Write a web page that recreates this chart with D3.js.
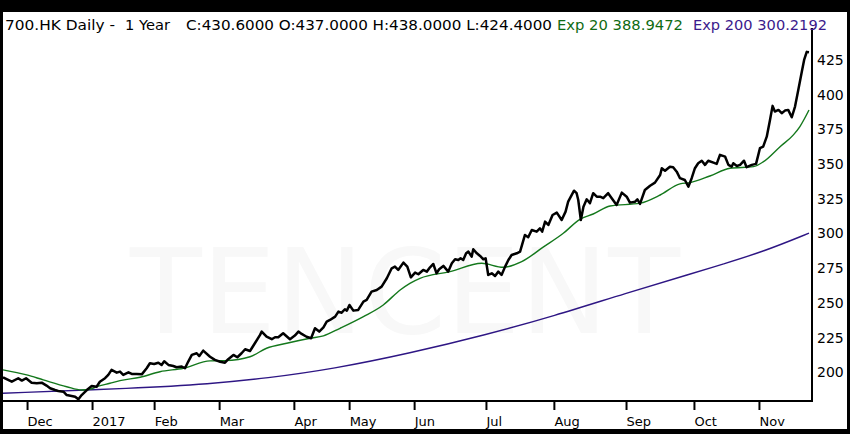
<!DOCTYPE html>
<html>
<head>
<meta charset="utf-8">
<script src="https://cdn.jsdelivr.net/npm/d3@7"></script>
<style>
  html, body { margin: 0; padding: 0; background: #fff; }
  svg { display: block; font-family: "DejaVu Sans", Verdana, sans-serif; }
</style>
</head>
<body>
<div id="chart"></div>
<script>
// 700.HK daily, last ~248 trading sessions (day 0 = late Nov 2016)
const priceDays = [
  0, 2.7, 4.7, 5.8, 7.1, 8.8, 10.4, 11.9, 13.4, 14.5, 16.0, 17.0, 18.6, 19.6, 21.1, 22.2, 23.2, 24.2, 25.8, 27.3,
  28.8, 29.8, 31.4, 32.4, 33.4, 35.0, 36.0, 37.0, 38.6, 39.6, 41.1, 42.7, 44.2, 45.2, 46.5, 47.8, 48.8, 49.6, 50.9, 52.4,
  53.4, 55.0, 56.0, 57.0, 58.1, 59.6, 60.4, 61.6,
  63.7, 65.2, 66.8, 68.3, 69.3, 70.9, 72.1, 73.4, 74.5, 76.0, 77.5, 79.1, 79.6, 81.1, 82.7, 83.7, 84.7, 86.2, 88.3, 89.8,
  90.9, 91.9, 93.4, 94.8, 96.0, 97.3, 98.6, 99.6, 100.6, 102.2, 103.2, 104.2, 105.2, 105.8, 106.6, 107.8, 109.3, 110.9, 111.9, 113.4,
  115.0, 116.5, 118.1, 119.6, 120.6, 121.6,
  123.2, 124.4, 125.5, 126.8, 127.8, 129.3, 130.4, 131.4, 132.4, 133.4, 134.2, 135.5, 137.0, 138.1, 139.1, 140.1, 140.8, 141.6, 142.5, 143.2,
  144.2, 144.7, 145.8, 146.8, 147.8, 148.5, 149.3, 150.4, 151.4, 152.4, 153.4, 154.5, 155.5, 156.5, 158.1, 159.1, 160.6, 161.6, 162.7, 164.2,
  165.2, 165.9, 166.8, 167.8, 169.1, 170.4, 171.9, 173.1, 173.9, 175.7, 176.5, 177.0, 177.8, 178.6, 179.6, 180.6, 181.6, 182.7,
  183.7, 184.7, 186.2, 187.3, 188.8, 190.4, 191.9, 192.9, 194.5, 195.2, 196.0, 197.5, 199.1, 200.6, 202.2, 202.7, 203.7, 205.2, 206.2, 207.3,
  208.3, 209.8, 210.9, 211.9, 212.9, 213.9, 215.0, 216.0, 217.0, 218.6, 219.6, 220.6, 222.2, 223.2, 224.2, 224.7, 225.8, 226.8, 228.0, 228.8,
  230.4, 231.7, 232.4, 232.9, 233.9, 235.0, 236.0, 236.8, 237.5, 238.6, 239.6, 240.6, 241.6, 242.7, 243.7, 244.7, 245.8, 246.5, 247.3, 248.0
];
const priceClose = [
  196.4, 193.2, 195.7, 194.0, 195.7, 192.5, 192.1, 192.5, 190.4, 188.5, 187.2, 186.5, 186.0, 183.6, 182.9, 182.4, 180.5, 183.6, 187.2, 190.1,
  189.6, 193.2, 195.7, 198.1, 201.7, 199.7, 200.5, 198.1, 200.0, 198.8, 198.8, 198.5, 202.9, 206.5, 206.0, 206.9, 205.3, 207.9, 205.3, 204.5,
  203.6, 204.1, 202.9, 207.7, 212.5, 213.7, 211.7, 215.6,
  211.2, 208.9, 207.6, 206.9, 209.4, 212.5, 210.8, 213.7, 216.6, 215.3, 220.9, 226.9, 229.3, 225.6, 223.8, 225.2, 225.2, 228.1, 223.8, 226.4,
  229.3, 227.6, 225.6, 224.5, 231.7, 229.3, 232.4, 236.5, 237.7, 240.1, 243.7, 242.9, 245.4, 244.4, 248.5, 244.4, 244.9, 250.9, 252.1, 258.1,
  259.3, 261.7, 267.7, 274.9, 276.1, 273.7,
  279.0, 276.1, 268.4, 271.8, 270.6, 273.7, 272.5, 275.6, 278.0, 271.3, 274.2, 276.6, 272.5, 278.5, 281.4, 280.9, 282.1, 280.9, 285.7, 286.9,
  283.3, 288.6, 285.7, 283.8, 281.4, 282.1, 270.1, 271.3, 269.4, 272.5, 270.1, 276.1, 280.9, 284.5, 285.7, 286.9, 298.9, 297.3, 302.5, 301.3,
  303.7, 301.3, 308.5, 306.1, 313.3, 315.0, 309.7, 315.7, 322.9, 330.8, 329.0, 324.1, 309.7, 319.3, 324.6, 321.8, 329.0, 326.5,
  326.5, 325.4, 329.0, 325.4, 320.5, 329.4, 326.5, 322.2, 322.9, 324.6, 321.3, 331.3, 334.4, 336.6, 342.1, 347.0, 345.2, 348.1, 347.7, 344.5,
  339.8, 338.5, 333.7, 339.8, 347.0, 350.6, 352.4, 349.4, 352.4, 351.0, 350.1, 356.6, 355.3, 349.4, 348.1, 350.6, 348.6, 349.4, 352.4, 347.7,
  349.4, 350.1, 356.6, 361.4, 362.5, 369.7, 381.8, 391.9, 387.8, 389.0, 386.6, 388.5, 389.0, 383.7, 391.4, 403.4, 416.6, 425.0, 430.8, 430.6
];

const ema20Days = [0, 7.3, 12.4, 19.6, 24.2, 26.8, 28.8, 32.9, 36.0, 42.2, 48.3, 55.5, 63.7, 68.3, 76.0, 81.1, 87.3, 94.5, 98.6, 103.7,
  110.9, 117.0, 122.2, 125.2, 128.3, 137.5, 147.3, 153.9, 159.6, 166.2, 172.4, 177.5, 181.6, 186.8, 196.0, 202.2, 208.3, 211.4, 217.5, 223.7,
  230.9, 234.0, 239.1, 243.2, 245.2, 248];
const ema20Values = [201.7, 198.1, 194.5, 189.6, 187.2, 187.8, 189.6, 192.1, 194.0, 196.4, 200.4, 202.9, 208.2, 208.4, 211.2, 217.3, 220.9, 224.5, 226.2, 231.7,
  240.1, 248.5, 259.3, 264.1, 267.7, 272.5, 278.5, 275.6, 279.7, 290.1, 300.1, 310.2, 314.0, 319.8, 321.8, 327.7, 335.7, 336.6, 341.4, 347.0,
  348.1, 351.7, 362.5, 371.0, 377.0, 388.9];

const ema200Days = [0, 40.9, 63.7, 81.1, 101.6, 125.2, 148.6, 169.5, 191.7, 212.6, 220.6, 234.0, 248];
const ema200Values = [184.9, 188.5, 191.6, 195.7, 202.4, 213.7, 227.0, 240.5, 257.0, 271.5, 277.3, 286.9, 300.2];

const monthDays = [7.4, 27.4, 46.5, 66.5, 89.5, 106.5, 126.5, 148.6, 169.5, 191.7, 212.6, 232.6];
const monthLabels = ["Dec", "2017", "Feb", "Mar", "Apr", "May", "Jun", "Jul", "Aug", "Sep", "Oct", "Nov"];
const priceTicks = [200, 225, 250, 275, 300, 325, 350, 375, 400, 425];

const W = 850, H = 434;
const plot = { left: 3, right: 812, top: 28, bottom: 401 };

const svg = d3.select("#chart").append("svg")
  .attr("width", W)
  .attr("height", H);

svg.append("rect").attr("width", W).attr("height", H).attr("fill", "#fff");

const x = d3.scaleLinear().domain([0, 248]).range([3, 809]);
const y = d3.scaleLinear().domain([179.3, 448]).range([plot.bottom, plot.top]);

// faint watermark
svg.append("text")
  .attr("x", 130)
  .attr("y", 333)
  .attr("font-size", 117)
  .attr("textLength", 550)
  .attr("lengthAdjust", "spacingAndGlyphs")
  .attr("fill", "#f8f8f8")
  .text("TENCENT");

// lines
const lineFor = (days, vals, curve) => d3.line()
  .x((d, i) => x(days[i]))
  .y(d => y(d))
  .curve(curve)(vals);

svg.append("path")
  .attr("d", lineFor(ema200Days, ema200Values, d3.curveBasis))
  .attr("fill", "none")
  .attr("stroke", "#2e1684")
  .attr("stroke-width", 1.4);

svg.append("path")
  .attr("d", lineFor(ema20Days, ema20Values, d3.curveMonotoneX))
  .attr("fill", "none")
  .attr("stroke", "#14781c")
  .attr("stroke-width", 1.4);

svg.append("path")
  .attr("d", lineFor(priceDays, priceClose, d3.curveLinear))
  .attr("fill", "none")
  .attr("stroke", "#000")
  .attr("stroke-width", 2.5)
  .attr("stroke-linejoin", "round");

// x axis
const xAxis = svg.append("g")
  .attr("transform", `translate(0,${plot.bottom})`)
  .call(d3.axisBottom(x)
    .tickValues(monthDays)
    .tickFormat((d, i) => monthLabels[i])
    .tickSize(9)
    .tickSizeOuter(0));
xAxis.select(".domain").remove();
xAxis.selectAll(".tick line").attr("stroke", "#000").attr("stroke-width", 2);
xAxis.selectAll(".tick text")
  .attr("text-anchor", "start")
  .attr("x", 0)
  .attr("y", 25)
  .attr("dy", 0)
  .attr("fill", "#000")
  .attr("font-size", 13)
  .attr("font-family", "DejaVu Sans, sans-serif");

// y axis on the right
const yAxis = svg.append("g")
  .attr("transform", `translate(${plot.right},0)`)
  .call(d3.axisRight(y)
    .tickValues(priceTicks)
    .tickSize(0)
    .tickPadding(5));
yAxis.select(".domain").remove();
yAxis.selectAll(".tick text")
  .attr("fill", "#000")
  .attr("font-size", 14)
  .attr("font-family", "DejaVu Sans, sans-serif");

// frame lines
svg.append("line")
  .attr("x1", plot.left).attr("x2", plot.right + 1)
  .attr("y1", plot.bottom).attr("y2", plot.bottom)
  .attr("stroke", "#000").attr("stroke-width", 2);
svg.append("line")
  .attr("x1", plot.right).attr("x2", plot.right)
  .attr("y1", plot.top).attr("y2", plot.bottom + 1)
  .attr("stroke", "#000").attr("stroke-width", 2);

// black border around the screenshot
svg.append("rect").attr("x", 0).attr("y", 0).attr("width", W).attr("height", 12).attr("fill", "#000");
svg.append("rect").attr("x", 0).attr("y", 0).attr("width", 3).attr("height", H).attr("fill", "#000");
svg.append("rect").attr("x", W - 3).attr("y", 0).attr("width", 3).attr("height", H).attr("fill", "#000");
svg.append("rect").attr("x", 0).attr("y", H - 5).attr("width", W).attr("height", 5).attr("fill", "#000");

// header
const header = [
  { t: "700.HK Daily -", x: 5, w: 110, c: "#000" },
  { t: "1 Year", x: 125, w: 45, c: "#000" },
  { t: "C:430.6000 O:437.0000 H:438.0000 L:424.4000", x: 186, w: 366, c: "#000" },
  { t: "Exp 20 388.9472", x: 557, w: 126, c: "#0f6b12" },
  { t: "Exp 200 300.2192", x: 693, w: 134, c: "#3b1a8c" }
];
const head = svg.append("text")
  .attr("y", 29.5)
  .attr("font-size", 14.5)
  .attr("font-family", "DejaVu Sans, sans-serif");
header.forEach(h => {
  head.append("tspan")
    .attr("x", h.x)
    .attr("fill", h.c)
    .attr("textLength", h.w)
    .attr("lengthAdjust", "spacingAndGlyphs")
    .text(h.t);
});
</script>
</body>
</html>
